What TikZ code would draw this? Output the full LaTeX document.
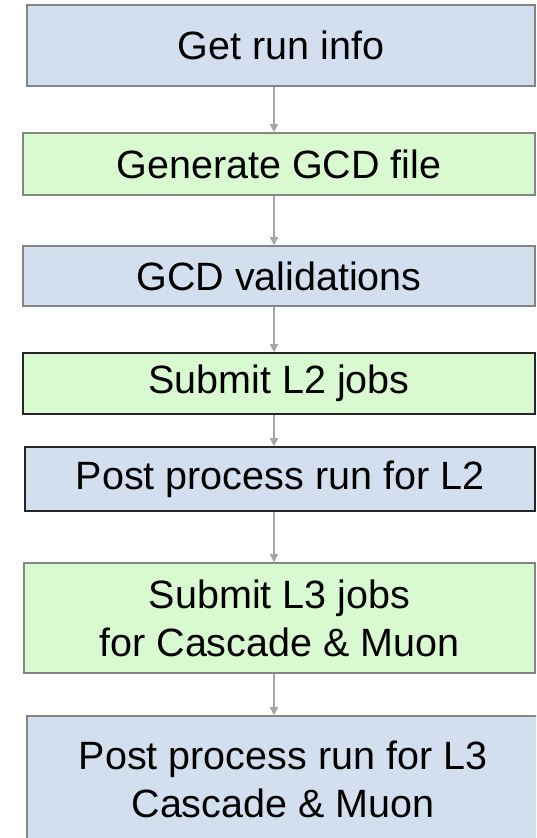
\documentclass[tikz,border=0pt]{standalone}
\usepackage{fontspec}
\setmainfont{Liberation Sans}
\usetikzlibrary{arrows.meta}
\definecolor{boxblue}{HTML}{D3DFEE}
\definecolor{boxgreen}{HTML}{D9F9D0}
\definecolor{bordergray}{HTML}{858585}
\definecolor{arrowgray}{HTML}{A5A5A5}
\tikzset{
  stepbox/.style={draw=bordergray, line width=1.6pt, inner sep=0pt, align=center,
    font=\fontsize{39.5}{48}\selectfont},
  bluebox/.style={stepbox, fill=boxblue},
  greenbox/.style={stepbox, fill=boxgreen},
  darkedge/.style={draw=black!85},
  flow/.style={draw=arrowgray, line width=1.4pt, -{Triangle[width=8pt,length=8pt]}}
}
\begin{document}
\begin{tikzpicture}[x=1pt,y=-1pt]
\useasboundingbox (0,0) rectangle (536,838);
\clip (0,0) rectangle (536,838);
\node[bluebox, minimum width=508pt, minimum height=81pt] (b1) at (281,45.5) {Get run info};
\node[greenbox, minimum width=512pt, minimum height=62pt] (b2) at (279,164) {Generate GCD file};
\node[bluebox, minimum width=512pt, minimum height=60pt] (b3) at (279,276) {GCD validations};
\node[greenbox, darkedge, minimum width=512pt, minimum height=61pt] (b4) at (279,383.5) {Submit L2 jobs};
\node[bluebox, darkedge, minimum width=510pt, minimum height=64pt] (b5) at (280,479) {Post process run for L2};
\node[greenbox, minimum width=511pt, minimum height=110pt] (b6) at (279.5,618) {Submit L3 jobs\\for Cascade \& Muon};
\node[bluebox, minimum width=512pt, minimum height=126pt] (b7) at (283,779) {Post process run for L3\\Cascade \& Muon};
\coordinate (ax) at (274,0);
\draw[flow] (b1.south -| ax) -- (b2.north -| ax);
\draw[flow] (b2.south -| ax) -- (b3.north -| ax);
\draw[flow] (b3.south -| ax) -- (b4.north -| ax);
\draw[flow] (b4.south -| ax) -- (b5.north -| ax);
\draw[flow] (b5.south -| ax) -- (b6.north -| ax);
\draw[flow] (b6.south -| ax) -- (b7.north -| ax);
\end{tikzpicture}
\end{document}
